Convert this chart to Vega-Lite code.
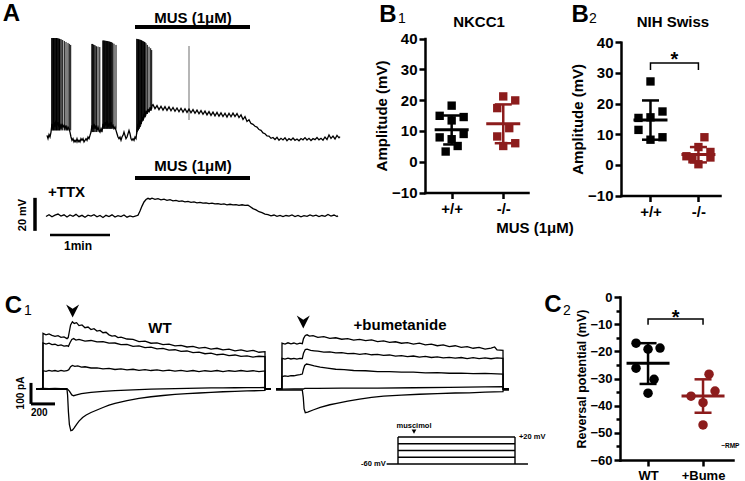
{
"$schema": "https://vega.github.io/schema/vega-lite/v6.json",
"width": 745, "height": 481,
"autosize": {"type": "none"},
"padding": 0,
"background": "#ffffff",
"config": {
  "view": {"stroke": null},
  "font": "Liberation Sans",
  "axis": {"grid": false, "domainColor": "#000000", "domainWidth": 2.5, "domainCap": "square", "tickColor": "#000000", "tickWidth": 2.5, "tickSize": 6, "labelColor": "#000000", "labelFont": "Liberation Sans", "labelFontWeight": "bold", "labelFontSize": 15, "labelPadding": 2, "labelFlush": false, "titleFont": "Liberation Sans", "titleFontWeight": "bold", "titleColor": "#000000", "titleFontSize": 15},
  "text": {"font": "Liberation Sans", "fontWeight": "bold", "color": "#000000", "fill": "#000000"}
},
"resolve": {"scale": {"x": "independent", "y": "independent"}, "axis": {"x": "independent", "y": "independent"}},
"layer": [
{
 "encoding": {
  "x": {"field": "t", "type": "quantitative", "scale": {"domain": [0, 293], "range": [47, 340], "nice": false, "zero": false}, "axis": null},
  "y": {"field": "v", "type": "quantitative", "scale": {"domain": [-60, 0], "range": [137, 38], "nice": false, "zero": false}, "axis": null}
 },
 "layer": [
  {"data": {"values": [
   {"t":4.7,"v":0,"w":-56},{"t":5.3,"v":0,"w":-56},{"t":5.9,"v":0,"w":-56},{"t":6.5,"v":0,"w":-56},{"t":7.1,"v":0,"w":-56},{"t":7.7,"v":0,"w":-56},{"t":8.3,"v":0,"w":-56},{"t":8.9,"v":0,"w":-56},{"t":9.5,"v":0,"w":-56},{"t":10.1,"v":0,"w":-56},{"t":10.7,"v":-0.2,"w":-56},{"t":11.3,"v":-0.3,"w":-56},{"t":11.9,"v":-0.4,"w":-56},{"t":12.5,"v":-0.5,"w":-56},{"t":13.1,"v":-0.6,"w":-56},
   {"t":14.2,"v":-0.8,"w":-56},{"t":15.7,"v":-1.2,"w":-56},{"t":17.3,"v":-1.8,"w":-56},{"t":19.0,"v":-2.4,"w":-56},{"t":21.0,"v":-3,"w":-56},{"t":22.3,"v":-3.6,"w":-56},{"t":23.7,"v":-4.2,"w":-56},
   {"t":44.8,"v":-3.6,"w":-57},{"t":45.6,"v":-3.6,"w":-57},{"t":46.4,"v":-4,"w":-57},{"t":47.2,"v":-4.2,"w":-57},{"t":48.2,"v":-4.5,"w":-57},{"t":49.4,"v":-5,"w":-57},{"t":51,"v":-5.2,"w":-57},{"t":52.8,"v":-5.5,"w":-57},
   {"t":55.8,"v":-1.5,"w":-55},{"t":56.4,"v":-1.5,"w":-55},{"t":57,"v":-1.6,"w":-55},{"t":57.6,"v":-1.6,"w":-55},{"t":58.2,"v":-1.7,"w":-55},{"t":58.8,"v":-1.7,"w":-55},{"t":59.4,"v":-1.8,"w":-55},{"t":60,"v":-1.8,"w":-55},{"t":60.6,"v":-1.9,"w":-55},{"t":61.2,"v":-2,"w":-55},{"t":61.8,"v":-2.1,"w":-55},{"t":62.4,"v":-2.2,"w":-55},{"t":63,"v":-2.3,"w":-55},{"t":63.6,"v":-2.4,"w":-55},{"t":64.2,"v":-2.5,"w":-55},{"t":64.8,"v":-2.6,"w":-55},{"t":65.7,"v":-3,"w":-55},{"t":67,"v":-3.5,"w":-55},{"t":69,"v":-4.2,"w":-55},
   {"t":89.7,"v":-0.5,"w":-58},{"t":90.3,"v":-0.6,"w":-57},{"t":90.9,"v":-0.7,"w":-56},{"t":91.5,"v":-0.8,"w":-56},{"t":92.1,"v":-0.9,"w":-55},{"t":92.7,"v":-1,"w":-54},{"t":93.3,"v":-1.1,"w":-54},{"t":93.9,"v":-1.2,"w":-53},{"t":94.5,"v":-1.4,"w":-52},{"t":95.1,"v":-1.6,"w":-51},{"t":95.7,"v":-1.8,"w":-50},{"t":96.3,"v":-2,"w":-50},{"t":96.9,"v":-2.2,"w":-49},{"t":97.5,"v":-2.4,"w":-48},{"t":98.1,"v":-2.6,"w":-48},{"t":99,"v":-3.2,"w":-47},{"t":100.3,"v":-4.2,"w":-46},{"t":102,"v":-5.3,"w":-45},{"t":103.7,"v":-6.2,"w":-44},{"t":104.7,"v":-7.3,"w":-43}
  ]}, "mark": {"type": "rule", "color": "#000000", "strokeWidth": 1}, "encoding": {"y2": {"field": "w"}}},
  {"data": {"values": [{"t":142,"v":-4.8,"w":-49.7}]}, "mark": {"type": "rule", "color": "#8f8f8f", "strokeWidth": 1.3}, "encoding": {"y2": {"field": "w"}}},
  {"data": {"values": [
   {"t":0,"v":-59},{"t":1,"v":-61},{"t":2,"v":-58.5},{"t":3,"v":-60},{"t":4,"v":-57},{"t":5,"v":-52},{"t":6,"v":-55},{"t":7,"v":-51},{"t":8,"v":-54},{"t":9,"v":-50},{"t":10,"v":-53},{"t":11,"v":-51},{"t":12,"v":-54},{"t":13,"v":-52},{"t":14,"v":-55},{"t":15,"v":-52},{"t":16,"v":-54},{"t":17,"v":-53},{"t":18,"v":-55},{"t":19,"v":-53},{"t":20,"v":-56},{"t":21,"v":-54},{"t":22,"v":-55},{"t":23,"v":-57},{"t":24,"v":-60},{"t":25,"v":-62},{"t":26,"v":-61},{"t":27,"v":-63},{"t":28,"v":-62},{"t":29,"v":-63},{"t":30,"v":-61},{"t":31,"v":-63},{"t":32,"v":-62},{"t":33,"v":-63},{"t":34,"v":-61},{"t":35,"v":-62},{"t":36,"v":-61},{"t":37,"v":-63},{"t":38,"v":-62},{"t":39,"v":-61},{"t":40,"v":-62},{"t":41,"v":-60},{"t":42,"v":-61},{"t":43,"v":-59},{"t":44,"v":-57},
   {"t":45,"v":-53},{"t":46,"v":-55},{"t":47,"v":-52},{"t":48,"v":-55},{"t":49,"v":-53},{"t":50,"v":-56},{"t":51,"v":-54},{"t":52,"v":-56},{"t":53,"v":-57},{"t":54,"v":-55},{"t":55,"v":-57},{"t":56,"v":-52},{"t":57,"v":-54},{"t":58,"v":-51},{"t":59,"v":-53},{"t":60,"v":-50},{"t":61,"v":-54},{"t":62,"v":-52},{"t":63,"v":-53},{"t":64,"v":-51},{"t":65,"v":-54},{"t":66,"v":-53},{"t":67,"v":-55},{"t":68,"v":-54},{"t":69,"v":-56},{"t":70,"v":-58},
   {"t":71,"v":-60},{"t":72,"v":-61},{"t":73,"v":-60},{"t":74,"v":-62},{"t":75,"v":-60},{"t":76,"v":-59},{"t":77,"v":-57},{"t":78,"v":-59},{"t":79,"v":-61},{"t":80,"v":-60},{"t":81,"v":-58},{"t":82,"v":-56},{"t":83,"v":-58},{"t":84,"v":-61},{"t":85,"v":-62},{"t":86,"v":-61},{"t":87,"v":-62},{"t":88,"v":-60},{"t":89,"v":-61},
   {"t":90,"v":-56},{"t":91,"v":-52},{"t":92,"v":-55},{"t":93,"v":-50},{"t":94,"v":-52},{"t":95,"v":-48},{"t":96,"v":-50},{"t":97,"v":-46},{"t":98,"v":-48},{"t":99,"v":-44},{"t":100,"v":-46},{"t":101,"v":-43},{"t":102,"v":-45},{"t":103,"v":-42},{"t":104,"v":-44},{"t":105,"v":-41},
   {"t":106,"v":-40.4},{"t":108,"v":-42.8},{"t":110,"v":-41.0},{"t":112,"v":-43.4},{"t":114,"v":-41.4},{"t":116,"v":-43.7},{"t":118,"v":-41.6},{"t":120,"v":-43.9},{"t":122,"v":-41.8},{"t":124,"v":-44.1},{"t":126,"v":-42.1},{"t":128,"v":-44.4},{"t":130,"v":-42.4},{"t":132,"v":-44.7},{"t":134,"v":-42.6},{"t":136,"v":-44.9},{"t":138,"v":-42.9},{"t":140,"v":-45.1},{"t":142,"v":-43.1},{"t":144,"v":-45.3},{"t":146,"v":-43.4},{"t":148,"v":-45.6},{"t":150,"v":-43.7},{"t":152,"v":-45.9},{"t":154,"v":-44.0},{"t":156,"v":-46.2},{"t":158,"v":-44.3},{"t":160,"v":-46.6},{"t":162,"v":-44.6},{"t":164,"v":-46.9},{"t":166,"v":-44.9},{"t":168,"v":-47.2},{"t":170,"v":-45.1},{"t":172,"v":-47.4},{"t":174,"v":-45.4},{"t":176,"v":-47.6},{"t":178,"v":-45.6},{"t":180,"v":-47.9},{"t":182,"v":-45.6},{"t":184,"v":-47.7},{"t":186,"v":-45.5},{"t":188,"v":-47.6},{"t":190,"v":-45.8},{"t":192,"v":-48.2},{"t":194,"v":-46.6},{"t":196,"v":-49.4},{"t":198,"v":-47.6},{"t":200,"v":-50.6},{"t":202,"v":-49.6},{"t":204,"v":-51.8},
   {"t":206,"v":-52.3},{"t":208,"v":-53.5},{"t":210,"v":-54},{"t":212,"v":-55.5},{"t":214,"v":-56},{"t":216,"v":-57.5},{"t":218,"v":-58},{"t":220,"v":-59.3},{"t":222,"v":-59.5},{"t":224,"v":-60.8},{"t":226,"v":-60.3},
   {"t":228,"v":-61.5},{"t":230,"v":-60.2},{"t":232,"v":-62},{"t":234,"v":-60.8},{"t":236,"v":-61.8},{"t":238,"v":-60.5},{"t":240,"v":-62.2},{"t":242,"v":-61},{"t":244,"v":-61.9},{"t":246,"v":-60.6},{"t":248,"v":-62},{"t":250,"v":-61.2},{"t":252,"v":-62.3},{"t":254,"v":-60.9},{"t":256,"v":-61.7},{"t":258,"v":-60.4},{"t":260,"v":-61.8},{"t":262,"v":-60.8},{"t":264,"v":-62.1},{"t":266,"v":-61},{"t":268,"v":-61.6},{"t":270,"v":-60.3},{"t":272,"v":-61.7},{"t":274,"v":-60.8},{"t":276,"v":-61.9},{"t":278,"v":-60},{"t":280,"v":-61.5},{"t":282,"v":-58.8},{"t":284,"v":-60.9},{"t":286,"v":-59.5},{"t":288,"v":-61.2},{"t":290,"v":-59},{"t":292,"v":-60.5},{"t":293,"v":-59.8}
  ]}, "mark": {"type": "line", "color": "#000000", "strokeWidth": 1.3}, "encoding": {}},
  {"data": {"values": [{"t":88,"t2":203,"v":6.7}]}, "mark": {"type": "rule", "color": "#000000", "strokeWidth": 4}, "encoding": {"x2": {"field": "t2"}}},
  {"data": {"values": [{"t":146,"v":12.1,"s":"MUS (1μM)"}]}, "mark": {"type": "text", "fontSize": 15, "fontWeight": "bold", "color": "#000000"}, "encoding": {"text": {"field": "s"}}},
  {"data": {"values": [{"t":-35.5,"v":14.5,"s":"A"}]}, "mark": {"type": "text", "fontSize": 24, "fontWeight": "bold", "color": "#000000"}, "encoding": {"text": {"field": "s"}}}
 ]
},
{
 "encoding": {
  "x": {"field": "t", "type": "quantitative", "scale": {"domain": [0, 293], "range": [47, 340], "nice": false, "zero": false}, "axis": null},
  "y": {"field": "v", "type": "quantitative", "scale": {"domain": [-60, 0], "range": [216, 117], "nice": false, "zero": false}, "axis": null}
 },
 "layer": [
  {"data": {"values": [
   {"t":-1,"v":-60.3},{"t":2,"v":-59.2},{"t":5,"v":-60.5},{"t":8,"v":-59.5},{"t":11,"v":-58.8},{"t":14,"v":-60},{"t":17,"v":-59.3},{"t":20,"v":-60.6},{"t":23,"v":-59.4},{"t":26,"v":-60.2},{"t":29,"v":-59},{"t":32,"v":-60.4},{"t":35,"v":-59.6},{"t":38,"v":-60.8},{"t":41,"v":-59.5},{"t":44,"v":-60.1},{"t":47,"v":-59.2},{"t":50,"v":-60.5},{"t":53,"v":-59.7},{"t":56,"v":-60.9},{"t":59,"v":-59.6},{"t":62,"v":-60.3},{"t":65,"v":-59.3},{"t":68,"v":-60.6},{"t":71,"v":-59.8},{"t":74,"v":-60.4},{"t":77,"v":-59.4},{"t":80,"v":-60.7},{"t":83,"v":-59.9},{"t":86,"v":-60.5},{"t":89,"v":-60},{"t":91,"v":-59.5},{"t":93,"v":-57},{"t":95,"v":-54},{"t":97,"v":-51.5},{"t":99,"v":-50},{"t":101,"v":-49.3},{"t":103,"v":-49.8},{"t":105,"v":-49.2},{"t":108,"v":-49.9},{"t":111,"v":-49.5},{"t":114,"v":-50.2},{"t":117,"v":-49.8},{"t":120,"v":-50.5},{"t":123,"v":-50.1},{"t":126,"v":-50.8},{"t":129,"v":-50.5},{"t":132,"v":-51.1},{"t":135,"v":-50.8},{"t":138,"v":-51.4},{"t":141,"v":-51.1},{"t":144,"v":-51.7},{"t":147,"v":-51.4},{"t":150,"v":-52},{"t":153,"v":-51.7},{"t":156,"v":-52.2},{"t":159,"v":-52},{"t":162,"v":-52.5},{"t":165,"v":-52.2},{"t":168,"v":-52.7},{"t":171,"v":-52.5},{"t":174,"v":-53},{"t":177,"v":-52.7},{"t":180,"v":-53.2},{"t":183,"v":-52.9},{"t":186,"v":-53.3},{"t":189,"v":-53.1},{"t":192,"v":-53.5},{"t":195,"v":-53.2},{"t":198,"v":-53.6},{"t":201,"v":-53.4},{"t":203,"v":-54.2},{"t":206,"v":-55.5},{"t":209,"v":-56.3},{"t":212,"v":-57.4},{"t":215,"v":-58},{"t":218,"v":-58.9},{"t":221,"v":-59.2},{"t":224,"v":-59.9},{"t":227,"v":-59.4},{"t":230,"v":-60.2},{"t":233,"v":-59.6},{"t":236,"v":-60.4},{"t":239,"v":-59.7},{"t":242,"v":-60.1},{"t":245,"v":-59.4},{"t":248,"v":-60.3},{"t":251,"v":-59.6},{"t":254,"v":-60.5},{"t":257,"v":-59.8},{"t":260,"v":-60.2},{"t":263,"v":-59.3},{"t":266,"v":-60.1},{"t":269,"v":-59.5},{"t":272,"v":-60.4},{"t":275,"v":-59.7},{"t":278,"v":-60.2},{"t":281,"v":-59.1},{"t":284,"v":-60},{"t":287,"v":-59.4},{"t":290,"v":-60.3},{"t":291,"v":-59.8}
  ]}, "mark": {"type": "line", "color": "#000000", "strokeWidth": 1.3}, "encoding": {}},
  {"data": {"values": [{"t":88,"t2":203,"v":-37}]}, "mark": {"type": "rule", "color": "#000000", "strokeWidth": 4}, "encoding": {"x2": {"field": "t2"}}},
  {"data": {"values": [{"t":-12,"v":-69,"v2":-49}]}, "mark": {"type": "rule", "color": "#000000", "strokeWidth": 3.5}, "encoding": {"y2": {"field": "v2"}}},
  {"data": {"values": [{"t":3,"t2":63,"v":-71.5}]}, "mark": {"type": "rule", "color": "#000000", "strokeWidth": 2.5}, "encoding": {"x2": {"field": "t2"}}},
  {"data": {"values": [{"t":146,"v":-29.7,"s":"MUS (1μM)"}]}, "mark": {"type": "text", "fontSize": 15, "fontWeight": "bold", "color": "#000000"}, "encoding": {"text": {"field": "s"}}},
  {"data": {"values": [{"t":31,"v":-78.2,"s":"1min"}]}, "mark": {"type": "text", "fontSize": 12, "fontWeight": "bold", "color": "#000000"}, "encoding": {"text": {"field": "s"}}},
  {"data": {"values": [{"t":1,"v":-45.5,"s":"+TTX"}]}, "mark": {"type": "text", "fontSize": 15, "fontWeight": "bold", "align": "left", "color": "#000000"}, "encoding": {"text": {"field": "s"}}},
  {"data": {"values": [{"t":-24,"v":-59.4,"s":"20 mV"}]}, "mark": {"type": "text", "fontSize": 11, "fontWeight": "bold", "angle": 270, "color": "#000000"}, "encoding": {"text": {"field": "s"}}}
 ]
},
{
 "encoding": {
  "x": {"field": "t", "type": "quantitative", "scale": {"domain": [0, 1850], "range": [43, 265], "nice": false, "zero": false}, "axis": null},
  "y": {"field": "i", "type": "quantitative", "scale": {"domain": [0, 300], "range": [389, 326], "nice": false, "zero": false}, "axis": null}
 },
 "layer": [
  {"data": {"values": [
   {"k":1,"t":-58,"i":0},{"k":1,"t":-1,"i":0},{"k":1,"t":0,"i":265},{"k":1,"t":25,"i":258},{"k":1,"t":50,"i":262},{"k":1,"t":75,"i":255},{"k":1,"t":100,"i":251},{"k":1,"t":125,"i":254},{"k":1,"t":150,"i":246},{"k":1,"t":175,"i":248},{"k":1,"t":200,"i":240},{"k":1,"t":210,"i":245},{"k":1,"t":220,"i":275},{"k":1,"t":230,"i":305},{"k":1,"t":245,"i":320},{"k":1,"t":260,"i":312},{"k":1,"t":280,"i":316},{"k":1,"t":300,"i":302},{"k":1,"t":325,"i":305},{"k":1,"t":350,"i":292},{"k":1,"t":375,"i":295},{"k":1,"t":400,"i":283},{"k":1,"t":425,"i":287},{"k":1,"t":450,"i":276},{"k":1,"t":475,"i":279},{"k":1,"t":500,"i":268},{"k":1,"t":525,"i":270},{"k":1,"t":550,"i":258},{"k":1,"t":575,"i":252},{"k":1,"t":600,"i":254},{"k":1,"t":625,"i":245},{"k":1,"t":650,"i":247},{"k":1,"t":700,"i":238},{"k":1,"t":750,"i":236},{"k":1,"t":800,"i":226},{"k":1,"t":850,"i":228},{"k":1,"t":900,"i":218},{"k":1,"t":950,"i":220},{"k":1,"t":1000,"i":211},{"k":1,"t":1050,"i":214},{"k":1,"t":1100,"i":205},{"k":1,"t":1150,"i":208},{"k":1,"t":1200,"i":200},{"k":1,"t":1250,"i":203},{"k":1,"t":1300,"i":195},{"k":1,"t":1350,"i":198},{"k":1,"t":1400,"i":190},{"k":1,"t":1450,"i":194},{"k":1,"t":1500,"i":186},{"k":1,"t":1550,"i":190},{"k":1,"t":1600,"i":182},{"k":1,"t":1650,"i":186},{"k":1,"t":1700,"i":179},{"k":1,"t":1750,"i":184},{"k":1,"t":1800,"i":175},{"k":1,"t":1850,"i":178},{"k":1,"t":1851,"i":0},{"k":1,"t":1900,"i":0},
   {"k":2,"t":-58,"i":0},{"k":2,"t":-1,"i":0},{"k":2,"t":0,"i":219},{"k":2,"t":25,"i":214},{"k":2,"t":50,"i":218},{"k":2,"t":75,"i":211},{"k":2,"t":100,"i":213},{"k":2,"t":125,"i":207},{"k":2,"t":150,"i":210},{"k":2,"t":175,"i":204},{"k":2,"t":200,"i":206},{"k":2,"t":212,"i":203},{"k":2,"t":225,"i":220},{"k":2,"t":240,"i":236},{"k":2,"t":255,"i":240},{"k":2,"t":275,"i":233},{"k":2,"t":300,"i":236},{"k":2,"t":350,"i":228},{"k":2,"t":400,"i":231},{"k":2,"t":450,"i":224},{"k":2,"t":500,"i":226},{"k":2,"t":550,"i":218},{"k":2,"t":600,"i":219},{"k":2,"t":650,"i":211},{"k":2,"t":700,"i":212},{"k":2,"t":750,"i":203},{"k":2,"t":800,"i":205},{"k":2,"t":850,"i":197},{"k":2,"t":900,"i":199},{"k":2,"t":950,"i":191},{"k":2,"t":1000,"i":193},{"k":2,"t":1050,"i":185},{"k":2,"t":1100,"i":187},{"k":2,"t":1150,"i":179},{"k":2,"t":1200,"i":181},{"k":2,"t":1250,"i":173},{"k":2,"t":1300,"i":176},{"k":2,"t":1350,"i":168},{"k":2,"t":1400,"i":171},{"k":2,"t":1450,"i":163},{"k":2,"t":1500,"i":166},{"k":2,"t":1550,"i":159},{"k":2,"t":1600,"i":162},{"k":2,"t":1650,"i":155},{"k":2,"t":1700,"i":158},{"k":2,"t":1750,"i":152},{"k":2,"t":1800,"i":156},{"k":2,"t":1850,"i":154},{"k":2,"t":1851,"i":0},{"k":2,"t":1900,"i":0},
   {"k":3,"t":-58,"i":0},{"k":3,"t":-1,"i":0},{"k":3,"t":0,"i":87},{"k":3,"t":25,"i":84},{"k":3,"t":50,"i":89},{"k":3,"t":75,"i":85},{"k":3,"t":100,"i":88},{"k":3,"t":125,"i":84},{"k":3,"t":150,"i":89},{"k":3,"t":175,"i":85},{"k":3,"t":200,"i":87},{"k":3,"t":215,"i":92},{"k":3,"t":230,"i":106},{"k":3,"t":245,"i":112},{"k":3,"t":265,"i":108},{"k":3,"t":290,"i":110},{"k":3,"t":320,"i":104},{"k":3,"t":350,"i":106},{"k":3,"t":400,"i":100},{"k":3,"t":450,"i":101},{"k":3,"t":500,"i":96},{"k":3,"t":550,"i":98},{"k":3,"t":600,"i":93},{"k":3,"t":650,"i":96},{"k":3,"t":700,"i":91},{"k":3,"t":750,"i":94},{"k":3,"t":800,"i":89},{"k":3,"t":850,"i":92},{"k":3,"t":900,"i":88},{"k":3,"t":950,"i":91},{"k":3,"t":1000,"i":86},{"k":3,"t":1050,"i":90},{"k":3,"t":1100,"i":85},{"k":3,"t":1150,"i":89},{"k":3,"t":1200,"i":84},{"k":3,"t":1250,"i":88},{"k":3,"t":1300,"i":83},{"k":3,"t":1350,"i":87},{"k":3,"t":1400,"i":84},{"k":3,"t":1450,"i":88},{"k":3,"t":1500,"i":83},{"k":3,"t":1550,"i":87},{"k":3,"t":1600,"i":84},{"k":3,"t":1650,"i":88},{"k":3,"t":1700,"i":84},{"k":3,"t":1750,"i":87},{"k":3,"t":1800,"i":83},{"k":3,"t":1850,"i":86},{"k":3,"t":1851,"i":0},{"k":3,"t":1900,"i":0},
   {"k":4,"t":-58,"i":0},{"k":4,"t":0,"i":3},{"k":4,"t":50,"i":2},{"k":4,"t":100,"i":3},{"k":4,"t":150,"i":2},{"k":4,"t":200,"i":2},{"k":4,"t":220,"i":-10},{"k":4,"t":240,"i":-28},{"k":4,"t":255,"i":-32},{"k":4,"t":280,"i":-28},{"k":4,"t":320,"i":-22},{"k":4,"t":400,"i":-16},{"k":4,"t":500,"i":-11},{"k":4,"t":600,"i":-8},{"k":4,"t":700,"i":-5},{"k":4,"t":800,"i":-3},{"k":4,"t":900,"i":-1},{"k":4,"t":1000,"i":1},{"k":4,"t":1100,"i":2},{"k":4,"t":1200,"i":3},{"k":4,"t":1300,"i":4},{"k":4,"t":1400,"i":5},{"k":4,"t":1500,"i":5},{"k":4,"t":1600,"i":6},{"k":4,"t":1700,"i":7},{"k":4,"t":1800,"i":7},{"k":4,"t":1850,"i":8},{"k":4,"t":1851,"i":0},{"k":4,"t":1900,"i":0},
   {"k":5,"t":-58,"i":0},{"k":5,"t":0,"i":-2},{"k":5,"t":100,"i":-1},{"k":5,"t":200,"i":-2},{"k":5,"t":205,"i":-30},{"k":5,"t":212,"i":-110},{"k":5,"t":220,"i":-170},{"k":5,"t":232,"i":-198},{"k":5,"t":245,"i":-196},{"k":5,"t":260,"i":-185},{"k":5,"t":280,"i":-168},{"k":5,"t":300,"i":-153},{"k":5,"t":330,"i":-136},{"k":5,"t":360,"i":-124},{"k":5,"t":400,"i":-112},{"k":5,"t":450,"i":-100},{"k":5,"t":500,"i":-88},{"k":5,"t":550,"i":-77},{"k":5,"t":600,"i":-68},{"k":5,"t":700,"i":-55},{"k":5,"t":800,"i":-45},{"k":5,"t":900,"i":-37},{"k":5,"t":1000,"i":-31},{"k":5,"t":1100,"i":-26},{"k":5,"t":1200,"i":-22},{"k":5,"t":1300,"i":-19},{"k":5,"t":1400,"i":-16},{"k":5,"t":1500,"i":-13},{"k":5,"t":1600,"i":-11},{"k":5,"t":1700,"i":-9},{"k":5,"t":1800,"i":-8},{"k":5,"t":1850,"i":-7},{"k":5,"t":1851,"i":-2},{"k":5,"t":1900,"i":-2}
  ]}, "mark": {"type": "line", "color": "#000000", "strokeWidth": 1.3}, "encoding": {"detail": {"field": "k"}}},
  {"data": {"values": [{"t":-100,"i":-71,"i2":29}]}, "mark": {"type": "rule", "color": "#000000", "strokeWidth": 3}, "encoding": {"y2": {"field": "i2"}}},
  {"data": {"values": [{"t":-100,"t2":100,"i":-71}]}, "mark": {"type": "rule", "color": "#000000", "strokeWidth": 3}, "encoding": {"x2": {"field": "t2"}}},
  {"data": {"values": [{"t":247,"i":371}]}, "mark": {"type": "point", "shape": "M-1,-1L0,1L1,-1L0,-0.35Z", "filled": true, "size": 170, "color": "#000000", "opacity": 1}, "encoding": {}},
  {"data": {"values": [{"t":975,"i":290,"s":"WT"}]}, "mark": {"type": "text", "fontSize": 15, "fontWeight": "bold", "color": "#000000"}, "encoding": {"text": {"field": "s"}}},
  {"data": {"values": [{"t":-246,"i":395,"s":"C"}]}, "mark": {"type": "text", "fontSize": 24, "fontWeight": "bold", "color": "#000000"}, "encoding": {"text": {"field": "s"}}},
  {"data": {"values": [{"t":-158,"i":371,"s":"1"}]}, "mark": {"type": "text", "fontSize": 14, "fontWeight": "normal", "align": "left", "color": "#000000", "fill": "#000000"}, "encoding": {"text": {"field": "s"}}},
  {"data": {"values": [{"t":-183,"i":-19,"s":"100 pA"}]}, "mark": {"type": "text", "fontSize": 10, "fontWeight": "bold", "angle": 270, "color": "#000000"}, "encoding": {"text": {"field": "s"}}},
  {"data": {"values": [{"t":-100,"i":-114,"s":"200"}]}, "mark": {"type": "text", "fontSize": 10, "fontWeight": "bold", "align": "left", "color": "#000000"}, "encoding": {"text": {"field": "s"}}}
 ]
},
{
 "encoding": {
  "x": {"field": "t", "type": "quantitative", "scale": {"domain": [0, 1850], "range": [282, 503], "nice": false, "zero": false}, "axis": null},
  "y": {"field": "i", "type": "quantitative", "scale": {"domain": [0, 300], "range": [389, 326], "nice": false, "zero": false}, "axis": null}
 },
 "layer": [
  {"data": {"values": [
   {"k":1,"t":-50,"i":0},{"k":1,"t":-1,"i":0},{"k":1,"t":0,"i":218},{"k":1,"t":25,"i":214},{"k":1,"t":50,"i":220},{"k":1,"t":75,"i":215},{"k":1,"t":100,"i":219},{"k":1,"t":125,"i":214},{"k":1,"t":150,"i":218},{"k":1,"t":170,"i":216},{"k":1,"t":180,"i":240},{"k":1,"t":195,"i":255},{"k":1,"t":210,"i":258},{"k":1,"t":230,"i":252},{"k":1,"t":260,"i":254},{"k":1,"t":300,"i":246},{"k":1,"t":350,"i":249},{"k":1,"t":400,"i":241},{"k":1,"t":450,"i":244},{"k":1,"t":500,"i":237},{"k":1,"t":550,"i":240},{"k":1,"t":600,"i":233},{"k":1,"t":650,"i":236},{"k":1,"t":700,"i":230},{"k":1,"t":750,"i":234},{"k":1,"t":800,"i":226},{"k":1,"t":850,"i":229},{"k":1,"t":900,"i":222},{"k":1,"t":950,"i":225},{"k":1,"t":1000,"i":218},{"k":1,"t":1050,"i":221},{"k":1,"t":1100,"i":214},{"k":1,"t":1150,"i":218},{"k":1,"t":1200,"i":210},{"k":1,"t":1250,"i":214},{"k":1,"t":1300,"i":206},{"k":1,"t":1350,"i":210},{"k":1,"t":1400,"i":202},{"k":1,"t":1450,"i":206},{"k":1,"t":1500,"i":198},{"k":1,"t":1550,"i":202},{"k":1,"t":1600,"i":194},{"k":1,"t":1650,"i":198},{"k":1,"t":1700,"i":190},{"k":1,"t":1750,"i":195},{"k":1,"t":1780,"i":200},{"k":1,"t":1800,"i":186},{"k":1,"t":1850,"i":184},{"k":1,"t":1851,"i":0},{"k":1,"t":1900,"i":0},
   {"k":2,"t":-50,"i":0},{"k":2,"t":-1,"i":0},{"k":2,"t":0,"i":146},{"k":2,"t":25,"i":142},{"k":2,"t":50,"i":147},{"k":2,"t":75,"i":143},{"k":2,"t":100,"i":146},{"k":2,"t":125,"i":142},{"k":2,"t":150,"i":146},{"k":2,"t":170,"i":145},{"k":2,"t":180,"i":170},{"k":2,"t":195,"i":188},{"k":2,"t":210,"i":190},{"k":2,"t":240,"i":184},{"k":2,"t":270,"i":182},{"k":2,"t":300,"i":180},{"k":2,"t":350,"i":176},{"k":2,"t":400,"i":177},{"k":2,"t":450,"i":172},{"k":2,"t":500,"i":173},{"k":2,"t":550,"i":168},{"k":2,"t":600,"i":170},{"k":2,"t":650,"i":165},{"k":2,"t":700,"i":168},{"k":2,"t":750,"i":163},{"k":2,"t":800,"i":165},{"k":2,"t":850,"i":160},{"k":2,"t":900,"i":162},{"k":2,"t":950,"i":157},{"k":2,"t":1000,"i":159},{"k":2,"t":1050,"i":154},{"k":2,"t":1100,"i":157},{"k":2,"t":1150,"i":152},{"k":2,"t":1200,"i":155},{"k":2,"t":1250,"i":150},{"k":2,"t":1300,"i":153},{"k":2,"t":1350,"i":148},{"k":2,"t":1400,"i":151},{"k":2,"t":1450,"i":147},{"k":2,"t":1500,"i":150},{"k":2,"t":1550,"i":145},{"k":2,"t":1600,"i":149},{"k":2,"t":1650,"i":145},{"k":2,"t":1700,"i":148},{"k":2,"t":1750,"i":144},{"k":2,"t":1800,"i":148},{"k":2,"t":1850,"i":146},{"k":2,"t":1851,"i":0},{"k":2,"t":1900,"i":0},
   {"k":3,"t":-50,"i":0},{"k":3,"t":-1,"i":0},{"k":3,"t":0,"i":59},{"k":3,"t":25,"i":62},{"k":3,"t":50,"i":60},{"k":3,"t":75,"i":64},{"k":3,"t":100,"i":63},{"k":3,"t":125,"i":66},{"k":3,"t":150,"i":68},{"k":3,"t":170,"i":71},{"k":3,"t":180,"i":95},{"k":3,"t":190,"i":112},{"k":3,"t":205,"i":119},{"k":3,"t":230,"i":116},{"k":3,"t":270,"i":110},{"k":3,"t":320,"i":104},{"k":3,"t":380,"i":99},{"k":3,"t":450,"i":94},{"k":3,"t":520,"i":92},{"k":3,"t":600,"i":88},{"k":3,"t":700,"i":87},{"k":3,"t":800,"i":83},{"k":3,"t":900,"i":83},{"k":3,"t":1000,"i":80},{"k":3,"t":1100,"i":80},{"k":3,"t":1200,"i":77},{"k":3,"t":1300,"i":78},{"k":3,"t":1400,"i":75},{"k":3,"t":1500,"i":76},{"k":3,"t":1600,"i":73},{"k":3,"t":1700,"i":74},{"k":3,"t":1800,"i":72},{"k":3,"t":1850,"i":71},{"k":3,"t":1851,"i":0},{"k":3,"t":1900,"i":0},
   {"k":4,"t":-50,"i":-1},{"k":4,"t":0,"i":-1},{"k":4,"t":100,"i":0},{"k":4,"t":178,"i":0},{"k":4,"t":190,"i":3},{"k":4,"t":300,"i":3},{"k":4,"t":500,"i":4},{"k":4,"t":800,"i":4},{"k":4,"t":1100,"i":6},{"k":4,"t":1400,"i":8},{"k":4,"t":1700,"i":10},{"k":4,"t":1850,"i":11},{"k":4,"t":1851,"i":0},{"k":4,"t":1900,"i":0},
   {"k":5,"t":-50,"i":-5},{"k":5,"t":0,"i":-5},{"k":5,"t":170,"i":-5},{"k":5,"t":178,"i":-40},{"k":5,"t":185,"i":-95},{"k":5,"t":195,"i":-113},{"k":5,"t":215,"i":-110},{"k":5,"t":260,"i":-100},{"k":5,"t":320,"i":-88},{"k":5,"t":400,"i":-75},{"k":5,"t":458,"i":-68},{"k":5,"t":550,"i":-58},{"k":5,"t":650,"i":-48},{"k":5,"t":750,"i":-40},{"k":5,"t":850,"i":-34},{"k":5,"t":1000,"i":-29},{"k":5,"t":1150,"i":-25},{"k":5,"t":1300,"i":-22},{"k":5,"t":1450,"i":-19},{"k":5,"t":1567,"i":-18},{"k":5,"t":1700,"i":-15},{"k":5,"t":1850,"i":-13},{"k":5,"t":1851,"i":-5},{"k":5,"t":1900,"i":-5}
  ]}, "mark": {"type": "line", "color": "#000000", "strokeWidth": 1.3}, "encoding": {"detail": {"field": "k"}}},
  {"data": {"values": [{"t":178,"i":319}]}, "mark": {"type": "point", "shape": "M-1,-1L0,1L1,-1L0,-0.35Z", "filled": true, "size": 170, "color": "#000000", "opacity": 1}, "encoding": {}},
  {"data": {"values": [{"t":988,"i":305,"s":"+bumetanide"}]}, "mark": {"type": "text", "fontSize": 15, "fontWeight": "bold", "color": "#000000"}, "encoding": {"text": {"field": "s"}}}
 ]
},
{
 "encoding": {
  "x": {"field": "t", "type": "quantitative", "scale": {"domain": [0, 1850], "range": [398, 515], "nice": false, "zero": false}, "axis": null},
  "y": {"field": "v", "type": "quantitative", "scale": {"domain": [-60, 20], "range": [464, 437], "nice": false, "zero": false}, "axis": null}
 },
 "layer": [
  {"data": {"values": [{"t":0,"t2":1850,"v":20},{"t":0,"t2":1850,"v":0},{"t":0,"t2":1850,"v":-20},{"t":0,"t2":1850,"v":-40},{"t":-180,"t2":2055,"v":-60}]}, "mark": {"type": "rule", "color": "#000000", "strokeWidth": 1.4}, "encoding": {"x2": {"field": "t2"}}},
  {"data": {"values": [{"t":0,"v":-60,"v2":20},{"t":1850,"v":-60,"v2":20}]}, "mark": {"type": "rule", "color": "#000000", "strokeWidth": 1.4}, "encoding": {"y2": {"field": "v2"}}},
  {"data": {"values": [{"t":253,"v":36}]}, "mark": {"type": "point", "shape": "triangle-down", "filled": true, "size": 22, "color": "#000000", "opacity": 1}, "encoding": {}},
  {"data": {"values": [{"t":253,"v":52.6,"s":"muscimol"}]}, "mark": {"type": "text", "fontSize": 7.5, "fontWeight": "bold", "color": "#000000"}, "encoding": {"text": {"field": "s"}}},
  {"data": {"values": [{"t":1913,"v":20,"s":"+20 mV"}]}, "mark": {"type": "text", "fontSize": 7.5, "fontWeight": "bold", "align": "left", "color": "#000000"}, "encoding": {"text": {"field": "s"}}},
  {"data": {"values": [{"t":-195,"v":-60,"s":"-60 mV"}]}, "mark": {"type": "text", "fontSize": 7.5, "fontWeight": "bold", "align": "right", "color": "#000000"}, "encoding": {"text": {"field": "s"}}}
 ]
},
{
 "encoding": {
  "x": {"field": "g", "type": "quantitative", "scale": {"domain": [0.483, 2.48], "range": [425, 528], "nice": false, "zero": false},
        "axis": {"orient": "bottom", "offset": -288.5, "values": [1, 2], "labelExpr": "datum.value == 1 ? '+/+' : '-/-'", "title": null, "labelPadding": 3}},
  "y": {"field": "v", "type": "quantitative", "scale": {"domain": [-10, 40], "range": [192.5, 38.5], "nice": false, "zero": false},
        "axis": {"orient": "left", "offset": -425, "values": [-10, 0, 10, 20, 30, 40], "title": "Amplitude (mV)", "titlePadding": 2}},
  "color": {"field": "g", "type": "nominal", "scale": {"domain": [1, 2], "range": ["#000000", "#8c1c1c"]}, "legend": null}
 },
 "layer": [
  {"data": {"values": [{"v":0}]}, "mark": {"type": "rule", "color": "#333333", "strokeWidth": 1.2, "strokeDash": [1.5, 1.5]}, "encoding": {"x": {"datum": 0.55, "type": "quantitative"}, "x2": {"datum": 2.47}, "color": {"value": "#333333"}}},
  {"data": {"values": [
   {"g":1,"col":"C","v":18.2},{"g":1,"col":"L","v":14.9},{"g":1,"col":"R","v":14.5},{"g":1,"col":"C","v":13.4},{"g":1,"col":"R","v":9.0},{"g":1,"col":"L","v":7.9},{"g":1,"col":"C","v":7.3},{"g":1,"col":"r","v":5.1},{"g":1,"col":"l","v":3.3},
   {"g":2,"col":"C","v":21.2},{"g":2,"col":"R","v":19.9},{"g":2,"col":"l","v":17.4},{"g":2,"col":"r","v":10.9},{"g":2,"col":"l","v":8.2},{"g":2,"col":"R","v":6.0},{"g":2,"col":"C","v":5.1}
  ]},
   "layer": [
    {"transform": [{"filter": "datum.col == 'L'"}], "mark": {"type": "square", "size": 70, "opacity": 1, "xOffset": -12}},
    {"transform": [{"filter": "datum.col == 'l'"}], "mark": {"type": "square", "size": 70, "opacity": 1, "xOffset": -6}},
    {"transform": [{"filter": "datum.col == 'C'"}], "mark": {"type": "square", "size": 70, "opacity": 1}},
    {"transform": [{"filter": "datum.col == 'r'"}], "mark": {"type": "square", "size": 70, "opacity": 1, "xOffset": 6}},
    {"transform": [{"filter": "datum.col == 'R'"}], "mark": {"type": "square", "size": 70, "opacity": 1, "xOffset": 12}}
   ]},
  {"data": {"values": [{"g":1,"v":5.6,"v2":15.0},{"g":2,"v":6.0,"v2":18.6}]}, "mark": {"type": "rule", "strokeWidth": 2.5}, "encoding": {"y2": {"field": "v2"}}},
  {"data": {"values": [{"g":1,"v":5.6},{"g":1,"v":15.0},{"g":2,"v":6.0},{"g":2,"v":18.6}]}, "mark": {"type": "tick", "orient": "horizontal", "size": 17, "thickness": 2.5, "opacity": 1}},
  {"data": {"values": [{"g":1,"v":10.4},{"g":2,"v":12.3}]}, "mark": {"type": "tick", "orient": "horizontal", "size": 34, "thickness": 3, "opacity": 1}},
  {"data": {"values": [{"g":-0.234,"v":47.6,"s":"B"}]}, "mark": {"type": "text", "fontSize": 24, "fontWeight": "bold"}, "encoding": {"text": {"field": "s"}, "color": {"value": "#000000"}}},
  {"data": {"values": [{"g":-0.04,"v":46.3,"s":"1"}]}, "mark": {"type": "text", "fontSize": 14, "fontWeight": "normal", "align": "left"}, "encoding": {"text": {"field": "s"}, "color": {"value": "#000000"}}},
  {"data": {"values": [{"g":1.53,"v":45.4,"s":"NKCC1"},{"g":2.615,"v":-21.5,"s":"MUS (1μM)"}]}, "mark": {"type": "text", "fontSize": 15, "fontWeight": "bold"}, "encoding": {"text": {"field": "s"}, "color": {"value": "#000000"}}}
 ]
},
{
 "encoding": {
  "x": {"field": "g", "type": "quantitative", "scale": {"domain": [0.385, 2.45], "range": [621, 720], "nice": false, "zero": false},
        "axis": {"orient": "bottom", "offset": -285.5, "values": [1, 2], "labelExpr": "datum.value == 1 ? '+/+' : '-/-'", "title": null, "labelPadding": 3}},
  "y": {"field": "v", "type": "quantitative", "scale": {"domain": [-10, 40], "range": [195.5, 42.2], "nice": false, "zero": false},
        "axis": {"orient": "left", "offset": -621, "values": [-10, 0, 10, 20, 30, 40], "title": "Amplitude (mV)", "titlePadding": 2}},
  "color": {"field": "g", "type": "nominal", "scale": {"domain": [1, 2], "range": ["#000000", "#8c1c1c"]}, "legend": null}
 },
 "layer": [
  {"data": {"values": [{"v":0}]}, "mark": {"type": "rule", "strokeWidth": 1.2, "strokeDash": [1.5, 1.5]}, "encoding": {"x": {"datum": 0.45, "type": "quantitative"}, "x2": {"datum": 2.44}, "color": {"value": "#333333"}}},
  {"data": {"values": [
   {"g":1,"col":"C","v":27.2},{"g":1,"col":"R","v":17.4},{"g":1,"col":"L","v":15.3},{"g":1,"col":"C","v":15.5},{"g":1,"col":"L","v":11.4},{"g":1,"col":"R","v":9.0},{"g":1,"col":"C","v":8.2},
   {"g":2,"col":"r","v":9.0},{"g":2,"col":"C","v":5.8},{"g":2,"col":"R","v":4.2},{"g":2,"col":"L","v":2.8},{"g":2,"col":"R","v":2.4},{"g":2,"col":"l","v":1.8},{"g":2,"col":"C","v":0.2}
  ]},
   "layer": [
    {"transform": [{"filter": "datum.col == 'L'"}], "mark": {"type": "square", "size": 70, "opacity": 1, "xOffset": -12}},
    {"transform": [{"filter": "datum.col == 'l'"}], "mark": {"type": "square", "size": 70, "opacity": 1, "xOffset": -6}},
    {"transform": [{"filter": "datum.col == 'C'"}], "mark": {"type": "square", "size": 70, "opacity": 1}},
    {"transform": [{"filter": "datum.col == 'r'"}], "mark": {"type": "square", "size": 70, "opacity": 1, "xOffset": 6}},
    {"transform": [{"filter": "datum.col == 'R'"}], "mark": {"type": "square", "size": 70, "opacity": 1, "xOffset": 12}}
   ]},
  {"data": {"values": [{"g":1,"v":8.2,"v2":21.0},{"g":2,"v":0.8,"v2":5.8}]}, "mark": {"type": "rule", "strokeWidth": 2.5}, "encoding": {"y2": {"field": "v2"}}},
  {"data": {"values": [{"g":1,"v":8.2},{"g":1,"v":21.0},{"g":2,"v":0.8},{"g":2,"v":5.8}]}, "mark": {"type": "tick", "orient": "horizontal", "size": 17, "thickness": 2.5, "opacity": 1}},
  {"data": {"values": [{"g":1,"v":14.6},{"g":2,"v":3.4}]}, "mark": {"type": "tick", "orient": "horizontal", "size": 34, "thickness": 3, "opacity": 1}},
  {"data": {"values": [{"g":1,"v":30.9,"o":0},{"g":1,"v":33.2,"o":1},{"g":2,"v":33.2,"o":2},{"g":2,"v":30.9,"o":3}]}, "mark": {"type": "line", "strokeWidth": 1.5}, "encoding": {"order": {"field": "o"}, "color": {"value": "#000000"}}},
  {"data": {"values": [{"g":1.5,"v":32.2,"s":"*"}]}, "mark": {"type": "text", "fontSize": 20, "fontWeight": "bold", "baseline": "alphabetic"}, "encoding": {"text": {"field": "s"}, "color": {"value": "#000000"}}},
  {"data": {"values": [{"g":-0.469,"v":48.9,"s":"B"}]}, "mark": {"type": "text", "fontSize": 24, "fontWeight": "bold"}, "encoding": {"text": {"field": "s"}, "color": {"value": "#000000"}}},
  {"data": {"values": [{"g":-0.282,"v":47.6,"s":"2"}]}, "mark": {"type": "text", "fontSize": 14, "fontWeight": "normal", "align": "left"}, "encoding": {"text": {"field": "s"}, "color": {"value": "#000000"}}},
  {"data": {"values": [{"g":1.468,"v":46.6,"s":"NIH Swiss"}]}, "mark": {"type": "text", "fontSize": 15, "fontWeight": "bold"}, "encoding": {"text": {"field": "s"}, "color": {"value": "#000000"}}}
 ]
},
{
 "encoding": {
  "x": {"field": "g", "type": "quantitative", "scale": {"domain": [0.49, 2.545], "range": [620, 733], "nice": false, "zero": false},
        "axis": {"orient": "bottom", "offset": -21, "values": [1, 2], "labelExpr": "datum.value == 1 ? 'WT' : '+Bume'", "title": null, "labelFontSize": 13, "labelPadding": 3}},
  "y": {"field": "v", "type": "quantitative", "scale": {"domain": [-60, 0], "range": [460, 297], "nice": false, "zero": false},
        "axis": {"orient": "left", "offset": -620, "values": [-60, -55, -50, -45, -40, -35, -30, -25, -20, -15, -10, -5, 0], "labelExpr": "datum.value % 10 == 0 ? datum.label : ''",
                 "tickSize": {"condition": {"test": "datum.value % 10 == 0", "value": 6}, "value": 4},
                 "title": "Reversal potential (mV)", "titleFontSize": 12.5, "labelFontSize": 13, "titlePadding": 1}},
  "color": {"field": "g", "type": "nominal", "scale": {"domain": [1, 2], "range": ["#000000", "#8c1c1c"]}, "legend": null}
 },
 "layer": [
  {"data": {"values": [{"v":-55}]}, "mark": {"type": "rule", "strokeWidth": 1.2, "strokeDash": [2, 1.5]}, "encoding": {"x": {"datum": 0.55, "type": "quantitative"}, "x2": {"datum": 2.3}, "color": {"value": "#222222"}}},
  {"data": {"values": [
   {"g":1,"col":"L","v":-17.0},{"g":1,"col":"C","v":-19.2},{"g":1,"col":"R","v":-18.8},{"g":1,"col":"L","v":-26.2},{"g":1,"col":"r","v":-30.3},{"g":1,"col":"C","v":-35.4},
   {"g":2,"col":"r","v":-28.4},{"g":2,"col":"L","v":-36.5},{"g":2,"col":"R","v":-34.6},{"g":2,"col":"C","v":-38.9},{"g":2,"col":"C","v":-47.1}
  ]},
   "layer": [
    {"transform": [{"filter": "datum.col == 'L'"}], "mark": {"type": "circle", "size": 90, "opacity": 1, "xOffset": -12}},
    {"transform": [{"filter": "datum.col == 'l'"}], "mark": {"type": "circle", "size": 90, "opacity": 1, "xOffset": -6}},
    {"transform": [{"filter": "datum.col == 'C'"}], "mark": {"type": "circle", "size": 90, "opacity": 1}},
    {"transform": [{"filter": "datum.col == 'r'"}], "mark": {"type": "circle", "size": 90, "opacity": 1, "xOffset": 6}},
    {"transform": [{"filter": "datum.col == 'R'"}], "mark": {"type": "circle", "size": 90, "opacity": 1, "xOffset": 12}}
   ]},
  {"data": {"values": [{"g":1,"v":-32.0,"v2":-17.0},{"g":2,"v":-42.6,"v2":-30.3}]}, "mark": {"type": "rule", "strokeWidth": 2.5}, "encoding": {"y2": {"field": "v2"}}},
  {"data": {"values": [{"g":1,"v":-32.0},{"g":1,"v":-17.0},{"g":2,"v":-42.6},{"g":2,"v":-30.3}]}, "mark": {"type": "tick", "orient": "horizontal", "size": 17, "thickness": 2.5, "opacity": 1}},
  {"data": {"values": [{"g":1,"v":-24.4},{"g":2,"v":-36.4}]}, "mark": {"type": "tick", "orient": "horizontal", "size": 43, "thickness": 3, "opacity": 1}},
  {"data": {"values": [{"g":1,"v":-10.2,"o":0},{"g":1,"v":-8.1,"o":1},{"g":2,"v":-8.1,"o":2},{"g":2,"v":-10.2,"o":3}]}, "mark": {"type": "line", "strokeWidth": 1.5}, "encoding": {"order": {"field": "o"}, "color": {"value": "#000000"}}},
  {"data": {"values": [{"g":1.5,"v":-9.8,"s":"*"}]}, "mark": {"type": "text", "fontSize": 20, "fontWeight": "bold", "baseline": "alphabetic"}, "encoding": {"text": {"field": "s"}, "color": {"value": "#000000"}}},
  {"data": {"values": [{"g":2.33,"v":-55,"s":"~RMP"}]}, "mark": {"type": "text", "fontSize": 6.5, "fontWeight": "bold", "align": "left"}, "encoding": {"text": {"field": "s"}, "color": {"value": "#000000"}}},
  {"data": {"values": [{"g":-0.728,"v":-2.95,"s":"C"}]}, "mark": {"type": "text", "fontSize": 24, "fontWeight": "bold"}, "encoding": {"text": {"field": "s"}, "color": {"value": "#000000"}}},
  {"data": {"values": [{"g":-0.546,"v":-5.2,"s":"2"}]}, "mark": {"type": "text", "fontSize": 14, "fontWeight": "normal", "align": "left"}, "encoding": {"text": {"field": "s"}, "color": {"value": "#000000"}}}
 ]
}
]
}
